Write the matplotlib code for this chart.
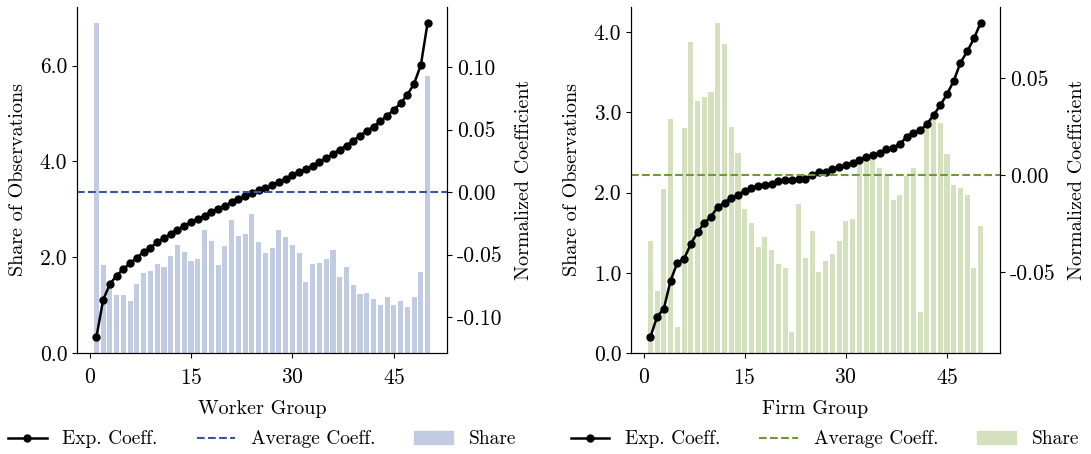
import matplotlib
matplotlib.use("Agg")
import matplotlib.pyplot as plt
from matplotlib.ticker import FormatStrFormatter, MultipleLocator
from matplotlib.lines import Line2D
from matplotlib.patches import Patch

plt.rcParams["font.family"] = "serif"
plt.rcParams["font.serif"] = ["cmr10", "DejaVu Serif"]
plt.rcParams["axes.unicode_minus"] = False
plt.rcParams["axes.formatter.use_mathtext"] = True

# Grupos (1..50)
grupos = list(range(1, 51))

# Painel esquerdo: trabalhadores
share_worker = [6.88, 1.83, 1.45, 1.22, 1.22, 1.08, 1.45, 1.67, 1.72, 1.86,
                1.79, 2.03, 2.25, 2.10, 1.92, 1.96, 2.57, 2.33, 1.84, 2.23,
                2.78, 2.44, 2.49, 2.91, 2.32, 2.09, 2.20, 2.57, 2.43, 2.26,
                2.09, 1.49, 1.86, 1.88, 1.96, 2.16, 1.59, 1.79, 1.41, 1.24,
                1.26, 1.13, 1.01, 1.16, 1.00, 1.09, 0.95, 1.16, 1.69, 5.78]
coef_worker = [-0.1163, -0.0864, -0.0736, -0.0669, -0.0616, -0.0571, -0.0525, -0.0480, -0.0445, -0.0403,
               -0.0368, -0.0336, -0.0301, -0.0269, -0.0240, -0.0216, -0.0189, -0.0157, -0.0133, -0.0109,
               -0.0083, -0.0056, -0.0035, -0.0008, 0.0013, 0.0032, 0.0056, 0.0083, 0.0107, 0.0133,
               0.0160, 0.0184, 0.0211, 0.0240, 0.0272, 0.0307, 0.0341, 0.0373, 0.0413, 0.0451,
               0.0491, 0.0525, 0.0568, 0.0611, 0.0659, 0.0712, 0.0779, 0.0869, 0.1019, 0.1357]
media_worker = 0.0

# Painel direito: firmas
share_firm = [1.40, 0.77, 2.05, 2.92, 0.32, 2.80, 3.88, 3.14, 3.19, 3.25,
              4.11, 3.86, 2.82, 2.50, 1.79, 1.62, 1.32, 1.45, 1.29, 1.11,
              1.06, 0.26, 1.86, 1.18, 1.52, 1.01, 1.15, 1.24, 1.40, 1.64,
              1.67, 2.40, 2.44, 2.42, 2.31, 2.21, 1.91, 1.97, 2.21, 2.31,
              0.51, 2.80, 2.92, 2.87, 2.48, 2.09, 2.06, 1.97, 1.06, 1.58]
coef_firm = [-0.0838, -0.0732, -0.0691, -0.0546, -0.0454, -0.0433, -0.0357, -0.0296, -0.0249, -0.0216,
             -0.0165, -0.0144, -0.0119, -0.0103, -0.0082, -0.0070, -0.0055, -0.0050, -0.0045, -0.0034,
             -0.0029, -0.0027, -0.0021, -0.0021, -0.0002, 0.0014, 0.0017, 0.0031, 0.0038, 0.0053,
             0.0062, 0.0079, 0.0091, 0.0100, 0.0112, 0.0131, 0.0141, 0.0160, 0.0194, 0.0218,
             0.0229, 0.0261, 0.0308, 0.0359, 0.0416, 0.0485, 0.0579, 0.0637, 0.0704, 0.0785]
media_firm = 0.0

FS_LABEL = 14.5
FS_TICK = 15.5
FS_LEG = 14


def painel(fig, rect, share, coef, media, cor_barra, cor_linha, xlabel, yticks_step, leg_x):
    ax = fig.add_axes(rect)
    ax.bar(grupos, share, width=0.75, color=cor_barra)
    ax.set_xlabel(xlabel, fontsize=FS_LABEL, labelpad=9)
    ax.set_ylabel("Share of Observations", fontsize=FS_LABEL, labelpad=9)
    ax.xaxis.set_major_locator(MultipleLocator(15))
    ax.yaxis.set_major_locator(MultipleLocator(yticks_step))
    ax.yaxis.set_major_formatter(FormatStrFormatter("%.1f"))
    ax.tick_params(labelsize=FS_TICK)
    ax.tick_params(axis="x", pad=7)
    ax.spines["top"].set_visible(False)

    ax2 = ax.twinx()
    ax2.plot(grupos, coef, color="black", marker="o", markersize=5, linewidth=1.8)
    ax2.axhline(media, color=cor_linha, linestyle="--", linewidth=1.5)
    ax2.set_ylabel("Normalized Coefficient", fontsize=FS_LABEL, labelpad=9)
    ax2.yaxis.set_major_locator(MultipleLocator(0.05))
    ax2.yaxis.set_major_formatter(FormatStrFormatter("%.2f"))
    ax2.tick_params(labelsize=FS_TICK)
    ax2.spines["top"].set_visible(False)

    handles = [
        Line2D([], [], color="black", marker="o", markersize=5, linewidth=1.8),
        Line2D([], [], color=cor_linha, linestyle="--", linewidth=1.5),
        Patch(color=cor_barra),
    ]
    ax.legend(handles, ["Exp. Coeff.", "Average Coeff.", "Share"], loc="center",
              bbox_to_anchor=(leg_x, -0.25), ncol=3, frameon=False, fontsize=FS_LEG)
    return ax, ax2


fig = plt.figure(figsize=(10.91, 4.54), dpi=100)
painel(fig, [0.0706, 0.2225, 0.3391, 0.7621], share_worker, coef_worker, media_worker,
       "#c1cbe2", "#3553a8", "Worker Group", 2, 0.5)
painel(fig, [0.5784, 0.2225, 0.3382, 0.7621], share_firm, coef_firm, media_firm,
       "#d4e0be", "#6e9a34", "Firm Group", 1, 0.525)

fig.savefig("out.png", dpi=100)
